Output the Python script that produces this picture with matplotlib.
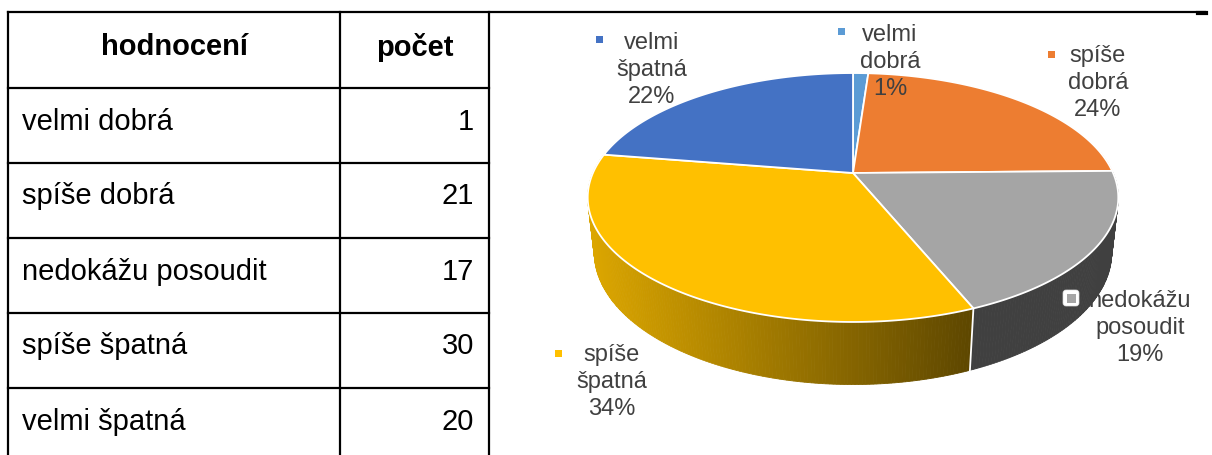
import numpy as np
import matplotlib.pyplot as plt
from matplotlib.patches import Polygon, Rectangle, FancyBboxPatch

# data from the table / pie
categories = ["velmi dobrá", "spíše dobrá", "nedokážu posoudit", "spíše špatná", "velmi špatná"]
counts = [1, 21, 17, 30, 20]
pie_labels = ["velmi\ndobrá", "spíše\ndobrá", "nedokážu\nposoudit", "spíše\nšpatná", "velmi\nšpatná"]
headers = ["hodnocení", "počet"]
colors = ["#5B9BD5", "#ED7D31", "#A5A5A5", "#FFC000", "#4472C4"]

plt.rcParams['font.family'] = ['Liberation Sans', 'DejaVu Sans']

# perspective of the 3d pie (pixel units)
cx, cy = 853, 173
f_len, d0 = 1173.0, 4.51
elev = np.arcsin(0.46)
depth = 0.24


def proj(theta, h=0.0):
    t = np.radians(theta)
    X = np.sin(t)
    Yd = np.cos(t)
    s, c = np.sin(elev), np.cos(elev)
    yc = Yd * s - h * c
    zc = d0 + Yd * c + h * s
    return cx + f_len * X / zc, cy - f_len * yc / zc


def arc(a0, a1, h=0.0, n=None):
    if n is None:
        n = max(int(abs(a1 - a0) * 2), 2)
    th = np.linspace(a0, a1, n)
    x, y = proj(th, h)
    return np.column_stack([x, y])


def main():
    fig = plt.figure(figsize=(12.12, 4.55), dpi=100)
    ax = fig.add_axes([0, 0, 1, 1])
    ax.set_xlim(0, 1212)
    ax.set_ylim(455, 0)
    ax.axis('off')

    # ---- table ----
    lw = 1.6
    ax.plot([8, 1205], [12, 12], color='black', lw=lw)
    ax.plot([1198, 1206], [13, 13], color='black', lw=3)
    for x in [8, 340, 489]:
        ax.plot([x, x], [12, 455], color='black', lw=lw)
    row_y = [12, 88, 163, 238, 313, 388, 463]
    for y in row_y[1:-1]:
        ax.plot([8, 489], [y, y], color='black', lw=lw)
    ax.text(174, 47, headers[0], ha='center', va='center', fontsize=21, fontweight='bold')
    ax.text(415, 47, headers[1], ha='center', va='center', fontsize=21, fontweight='bold')
    for i, (cat, n) in enumerate(zip(categories, counts)):
        yc = (row_y[i + 1] + row_y[i + 2]) / 2 - 4
        ax.text(22, yc, cat, ha='left', va='center', fontsize=21)
        ax.text(474, yc, str(n), ha='right', va='center', fontsize=21)

    # ---- 3d pie ----
    total = sum(counts)
    bounds = np.concatenate([[0], np.cumsum(counts) / total * 360])

    # side walls (front part only)
    for i in range(len(counts)):
        a0, a1 = max(bounds[i], 80), min(bounds[i + 1], 280)
        if a1 <= a0:
            continue
        steps = np.linspace(a0, a1, int((a1 - a0) * 1.5) + 2)
        for s0, s1 in zip(steps[:-1], steps[1:]):
            top = arc(s0, s1, 0, 3)
            bot = arc(s1, s0, depth, 3)
            if i == 3:
                xm = proj((s0 + s1) / 2)[0]
                k = np.clip((xm - 590) / (970 - 590), 0, 1)
                c0 = np.array([0.86, 0.65, 0.0])
                c1 = np.array([0.37, 0.28, 0.0])
                col = c0 * (1 - k) + c1 * k
            elif i == 2:
                col = "#404040"
            else:
                col = colors[i]
            ax.add_patch(Polygon(np.vstack([top, bot]), closed=True, facecolor=col,
                                 edgecolor=col, lw=0.6, zorder=1))
    # white divider on the visible side between slices
    for b in bounds[1:-1]:
        if 101 < b < 259:
            x0, y0 = proj(b)
            x1, y1 = proj(b, depth)
            ax.plot([x0, x1], [y0, y1], color='white', lw=1.3, zorder=1.5)

    # top faces
    for i in range(len(counts)):
        pts = np.vstack([[cx, cy], arc(bounds[i], bounds[i + 1])])
        ax.add_patch(Polygon(pts, closed=True, facecolor=colors[i], edgecolor='white',
                             lw=1.3, joinstyle='round', zorder=2))

    # data labels
    label_pos = [(890, 62), (1098, 83), (1140, 328), (612, 382), (652, 70)]
    key_off = [(-49, -31), (-47, -29), (-69, -30), (-54, -29), (-53, -31)]
    for i, n in enumerate(counts):
        pct = round(n / total * 100)
        tx, ty = label_pos[i]
        ax.text(tx, ty, f"{pie_labels[i]}\n{pct}%", ha='center', va='center',
                multialignment='center', fontsize=17, color='#404040', linespacing=1.3,
                zorder=3)
        kx, ky = tx + key_off[i][0], ty + key_off[i][1]
        if i == 2:
            ax.add_patch(FancyBboxPatch((kx - 8, ky - 8), 16, 16,
                                        boxstyle="round,pad=0,rounding_size=3",
                                        facecolor='white', edgecolor='#DDDDDD', lw=0.5,
                                        zorder=4))
            ax.add_patch(Rectangle((kx - 4.5, ky - 4.5), 9, 9, facecolor=colors[i], zorder=5))
        else:
            ax.add_patch(Rectangle((kx - 3.5, ky - 3.5), 7, 7, facecolor=colors[i], zorder=4))

    fig.savefig("out.png", dpi=100)


if __name__ == "__main__":
    main()
